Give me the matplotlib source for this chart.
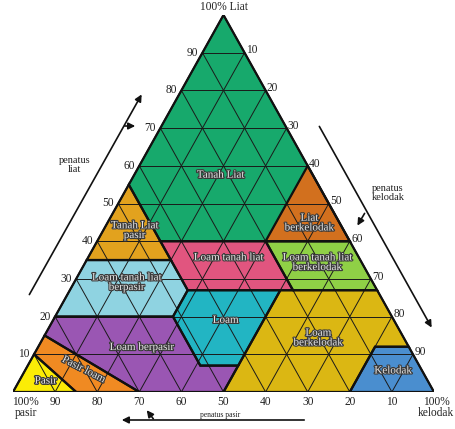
import numpy as np
import matplotlib
matplotlib.use("Agg")
import matplotlib.pyplot as plt
from matplotlib.patches import Polygon
import matplotlib.patheffects as pe

# ─── DATA ──────────────────────────────────────────────────────────────────
# texture classes as (sand, silt, clay) corner points, USDA triangle
class_names = ["Tanah Liat", "Tanah Liat\npasir", "Liat\nberkelodak",
               "Loam tanah liat", "Loam tanah liat\nberkelodak",
               "Loam tanah liat\nberpasir", "Loam", "Loam\nberkelodak",
               "Loam berpasir", "Pasir loam", "Pasir", "Kelodak"]
class_polys = [
    [(0, 0, 100), (45, 0, 55), (45, 15, 40), (20, 40, 40), (0, 60, 40)],
    [(45, 0, 55), (65, 0, 35), (45, 20, 35)],
    [(0, 60, 40), (20, 40, 40), (0, 40, 60)],
    [(20, 40, 40), (45, 15, 40), (45, 28, 27), (20, 53, 27)],
    [(0, 73, 27), (20, 53, 27), (20, 40, 40), (0, 60, 40)],
    [(45, 20, 35), (65, 0, 35), (80, 0, 20), (52, 28, 20), (45, 28, 27)],
    [(23, 50, 27), (45, 28, 27), (52, 28, 20), (52, 41, 7), (43, 50, 7)],
    [(0, 73, 27), (23, 50, 27), (43, 50, 7), (50, 50, 0), (20, 80, 0),
     (8, 80, 12), (0, 88, 12)],
    [(80, 0, 20), (52, 28, 20), (52, 41, 7), (43, 50, 7), (50, 50, 0),
     (70, 30, 0), (85, 0, 15)],
    [(85, 0, 15), (70, 30, 0), (85, 15, 0), (90, 0, 10)],
    [(90, 0, 10), (85, 15, 0), (100, 0, 0)],
    [(0, 88, 12), (8, 80, 12), (20, 80, 0), (0, 100, 0)],
]
class_colors = ["#17a96c", "#e2a21e", "#d2701e", "#e1557f", "#8fd046",
                "#8fd3e1", "#22b5c3", "#dbb713", "#9a56b3", "#f08a22",
                "#fbec06", "#4a8ecf"]
# label anchor points (x along base, clay)
label_pos = [(49.3, 57.5), (28.9, 42.8), (70.4, 44.8), (51.2, 35.6),
             (72.3, 34.3), (27.0, 29.0), (50.5, 19.0), (72.5, 14.3),
             (30.6, 11.8), (16.8, 5.9), (7.8, 2.9), (90.3, 5.6)]
label_rot = [0, 0, 0, 0, 0, 0, 0, 0, 0, -27, 0, 0]

ticks = [10, 20, 30, 40, 50, 60, 70, 80, 90]

W, H = 455, 429


def xy(sand, silt, clay):
    return silt + clay / 2.0, clay


def fig_pt(px, py):
    return px / W, 1 - py / H


fig = plt.figure(figsize=(W / 100, H / 100), dpi=100)
plt.rcParams['font.family'] = ['Liberation Serif', 'DejaVu Serif']
ax = fig.add_axes([13 / W, 1 - 392 / H, 421 / W, 377 / H])
ax.set_xlim(0, 100)
ax.set_ylim(0, 100)
ax.axis("off")

# ─── FILLS ─────────────────────────────────────────────────────────────────
for pts, col in zip(class_polys, class_colors):
    ax.add_patch(Polygon([xy(*p) for p in pts], closed=True, facecolor=col,
                         edgecolor="none", zorder=1))

# ─── GRID ──────────────────────────────────────────────────────────────────
gkw = dict(color="#1a1a1a", lw=0.7, zorder=2)
for k in ticks:
    # constant clay
    a, b = xy(100 - k, 0, k), xy(0, 100 - k, k)
    ax.plot([a[0], b[0]], [a[1], b[1]], **gkw)
    # constant silt
    a, b = xy(100 - k, k, 0), xy(0, k, 100 - k)
    ax.plot([a[0], b[0]], [a[1], b[1]], **gkw)
    # constant sand
    a, b = xy(k, 100 - k, 0), xy(k, 0, 100 - k)
    ax.plot([a[0], b[0]], [a[1], b[1]], **gkw)

# ─── BOUNDARIES ────────────────────────────────────────────────────────────
for pts in class_polys:
    ax.add_patch(Polygon([xy(*p) for p in pts], closed=True, facecolor="none",
                         edgecolor="#111111", lw=1.6, zorder=3))
tri = [xy(100, 0, 0), xy(0, 100, 0), xy(0, 0, 100)]
ax.add_patch(Polygon(tri, closed=True, facecolor="none", edgecolor="#111111",
                     lw=1.2, zorder=4))

# ─── CLASS LABELS ──────────────────────────────────────────────────────────
for name, (lx, ly), rot in zip(class_names, label_pos, label_rot):
    ax.text(lx, ly, name, ha="center", va="center", fontsize=8,
            rotation=rot, color="#e6e6e6", linespacing=1.1, zorder=5,
            path_effects=[pe.withStroke(linewidth=1.6, foreground="#3a3a3a")])

# ─── TICK LABELS ───────────────────────────────────────────────────────────
tk = dict(fontsize=8.3, color="#222222", clip_on=False)
for k in ticks:
    x, y = xy(100 - k, 0, k)
    ax.text(x - 1.0, y, str(k), ha="right", va="center", **tk)
    x, y = xy(0, k, 100 - k)
    ax.text(x + 0.3, y + 0.6, str(k), ha="left", va="center", **tk)
    x, y = xy(k, 100 - k, 0)
    ax.text(x, -1.0, str(k), ha="center", va="top", **tk)

ax.text(50, 100.6, "100% Liat", ha="center", va="bottom", **tk)
ax.text(3.0, -1.0, "100%\npasir", ha="center", va="top", linespacing=0.9, **tk)
ax.text(100.5, -1.0, "100%\nkelodak", ha="center", va="top", linespacing=0.9, **tk)

# ─── AXIS ARROWS ───────────────────────────────────────────────────────────
akw = dict(arrowstyle="-|>", color="#111111", lw=1.2, mutation_scale=10)
arrows = [((28, 297), (143, 92)), ((122, 126), (138, 126)),
          ((318, 124), (433, 330)), ((366, 211), (356, 228)),
          ((307, 420), (119, 420)), ((155, 421), (145, 408))]
for p0, p1 in arrows:
    fig.add_artist(matplotlib.patches.FancyArrowPatch(
        fig_pt(*p0), fig_pt(*p1), transform=fig.transFigure, **akw))

fig.text(*fig_pt(75, 165), "penatus\nliat", ha="center", va="center",
         fontsize=7.5, linespacing=0.95, color="#222222")
fig.text(*fig_pt(388, 193), "penatus\nkelodak", ha="center", va="center",
         fontsize=7.5, linespacing=0.95, color="#222222")
fig.text(*fig_pt(220, 415), "penatus pasir", ha="center", va="center",
         fontsize=5.5, color="#222222")

fig.savefig("out.png", dpi=100, facecolor="white")
